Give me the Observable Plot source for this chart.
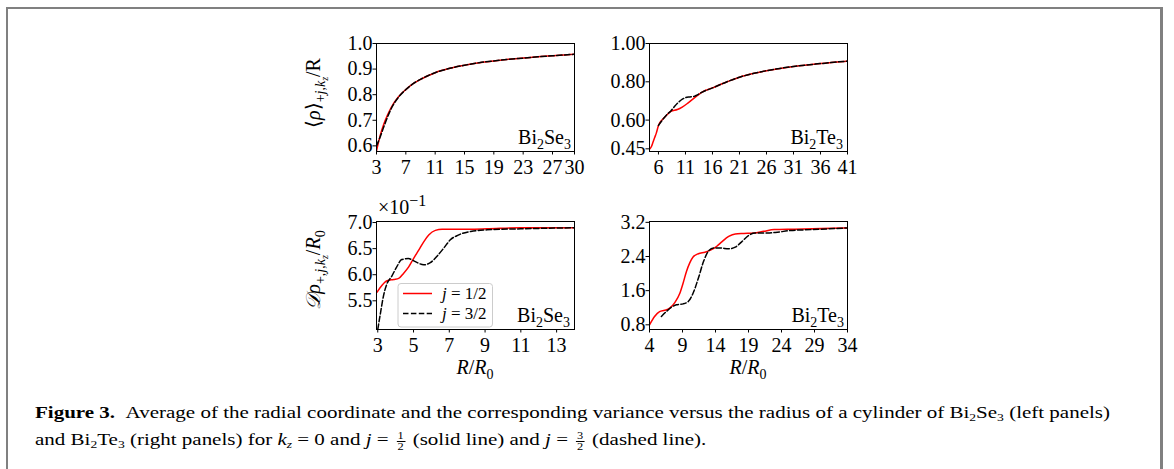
<!DOCTYPE html>
<html><head><meta charset="utf-8">
<script src="https://cdn.jsdelivr.net/npm/d3@7"></script>
<script src="https://cdn.jsdelivr.net/npm/@observablehq/plot@0.6"></script>
<style>
html,body{margin:0;padding:0;background:#fff;}
#page{position:relative;width:1174px;height:469px;overflow:hidden;font-family:"Liberation Serif",serif;color:#000;}
#box{position:absolute;left:6px;top:7px;width:1157px;height:480px;border:2px solid #808080;border-right-width:3px;border-bottom:none;box-sizing:border-box;}
.panel{position:absolute;}
#overlay{position:absolute;left:0;top:0;}
.cap{position:absolute;left:35px;white-space:nowrap;font-size:17px;line-height:17px;transform-origin:0 50%;}
.frac{display:inline-block;vertical-align:-5px;text-align:center;font-size:10px;line-height:10px;margin:0 2px;}
.frac span{display:block;}
.frac .n{border-bottom:1px solid #000;padding:0 1px;}
sub{font-size:11px;vertical-align:-3px;line-height:0;}
</style></head>
<body><div id="page"><div id="box"></div>
<div class="cap" id="cap1" style="top:404px"><b>Figure 3.</b>&nbsp;&nbsp;Average of the radial coordinate and the corresponding variance versus the radius of a cylinder of Bi<sub>2</sub>Se<sub>3</sub> (left panels)</div>
<div class="cap" id="cap2" style="top:431px">and Bi<sub>2</sub>Te<sub>3</sub> (right panels) for <i>k<sub>z</sub></i> = 0 and <i>j</i> = <span class="frac"><span class="n">1</span><span>2</span></span> (solid line) and <i>j</i> = <span class="frac"><span class="n">3</span><span>2</span></span> (dashed line).</div>
</div>
<script>
// ---- data ----
// Bi2Se3, <rho>/R
const seAvgR = [3, 3.5, 4, 4.5, 5, 6, 7, 8, 9, 10, 11, 13, 15, 17, 19, 21, 23, 25, 27, 30];
const seAvgHalf = [0.58, 0.64, 0.685, 0.72, 0.75, 0.792, 0.82, 0.843, 0.86, 0.874, 0.886, 0.903, 0.915, 0.925, 0.932, 0.938, 0.943, 0.948, 0.952, 0.958];
const seAvgThree = [0.60, 0.635, 0.675, 0.712, 0.745, 0.79, 0.82, 0.843, 0.86, 0.874, 0.886, 0.903, 0.915, 0.925, 0.932, 0.938, 0.943, 0.948, 0.952, 0.958];
// Bi2Te3, <rho>/R
const teAvgRHalf = [4.34, 4.7, 5.0, 5.3, 5.6, 6, 6.8, 7.5, 8.3, 9.5, 10.4, 11.5, 13, 14, 16, 18.5, 21, 23.5, 26, 28.5, 31, 33.5, 36, 38.5, 41];
const teAvgHalf = [0.448, 0.462, 0.485, 0.509, 0.532, 0.572, 0.605, 0.625, 0.645, 0.655, 0.668, 0.69, 0.724, 0.745, 0.768, 0.798, 0.824, 0.843, 0.858, 0.87, 0.88, 0.888, 0.895, 0.902, 0.908];
const teAvgRThree = [6, 6.8, 7.5, 8.3, 9, 9.6, 10.2, 11, 11.8, 12.6, 13.2, 14, 16, 18.5, 21, 23.5, 26, 28.5, 31, 33.5, 36, 38.5, 41];
const teAvgThree = [0.572, 0.603, 0.627, 0.648, 0.672, 0.69, 0.705, 0.717, 0.721, 0.724, 0.732, 0.745, 0.768, 0.798, 0.824, 0.843, 0.858, 0.87, 0.88, 0.888, 0.895, 0.902, 0.908];
// Bi2Se3, D rho / R0  (x 10^-1)
const seVarRHalf = [2.95, 3.24, 3.52, 3.9, 4.17, 4.45, 4.73, 5.0, 5.29, 5.57, 5.85, 6.22, 6.6, 7.43, 9.1, 11, 14];
const seVarHalf = [5.66, 5.80, 5.885, 5.91, 5.93, 6.03, 6.15, 6.31, 6.47, 6.63, 6.76, 6.85, 6.87, 6.87, 6.88, 6.90, 6.90];
const seVarRThree = [3, 3.15, 3.33, 3.52, 3.78, 4.06, 4.34, 4.71, 5.1, 5.57, 5.94, 6.3, 6.69, 7.06, 7.5, 8.2, 9.1, 11, 14];
const seVarThree = [4.95, 5.26, 5.61, 5.83, 5.97, 6.15, 6.29, 6.31, 6.25, 6.19, 6.23, 6.35, 6.51, 6.67, 6.76, 6.83, 6.86, 6.88, 6.90];
// Bi2Te3, D rho / R0
const teVarRHalf = [4, 4.77, 5.53, 6.3, 7.06, 7.83, 8.6, 9.1, 9.6, 10.1, 10.6, 11.4, 12.4, 13.4, 14.2, 15, 16, 17, 18.3, 19.8, 21.3, 22.9, 26, 30, 34];
const teVarHalf = [0.80, 0.995, 1.11, 1.14, 1.19, 1.32, 1.54, 1.78, 2.05, 2.25, 2.39, 2.465, 2.50, 2.56, 2.64, 2.75, 2.87, 2.93, 2.94, 2.95, 2.99, 3.03, 3.04, 3.055, 3.07];
const teVarRThree = [5.8, 6.55, 7.3, 8.1, 9.1, 9.9, 10.6, 11.4, 12.2, 12.9, 13.7, 14.7, 16, 17, 18, 19, 20, 21.9, 23.4, 25.4, 28.5, 34];
const teVarThree = [0.995, 1.11, 1.21, 1.27, 1.29, 1.35, 1.54, 1.89, 2.29, 2.52, 2.60, 2.60, 2.58, 2.62, 2.75, 2.89, 2.95, 2.95, 2.97, 3.01, 3.03, 3.07];
// ticks
const tlXTicks = [3, 7, 11, 15, 19, 23, 27, 30];
const tlYTicks = [0.6, 0.7, 0.8, 0.9, 1.0];
const trXTicks = [6, 11, 16, 21, 26, 31, 36, 41];
const trYTicks = [0.45, 0.60, 0.80, 1.00];
const blXTicks = [3, 5, 7, 9, 11, 13];
const blYTicks = [5.5, 6.0, 6.5, 7.0];
const brXTicks = [4, 9, 14, 19, 24, 29, 34];
const brYTicks = [0.8, 1.6, 2.4, 3.2];

const zip = (xs, ys) => xs.map((x, i) => ({r: x, v: ys[i]}));
const page = document.getElementById("page");
const FW = 198, FH = 108, ML = 80, MT = 25, MR = 30, MB = 50;

function panel(left, top, cfg) {
  const p = Plot.plot({
    width: FW + ML + MR, height: FH + MT + MB,
    marginLeft: ML, marginTop: MT, marginRight: MR, marginBottom: MB,
    style: {fontFamily: '"Liberation Serif", serif', background: "transparent", color: "#000", overflow: "visible"},
    x: {domain: cfg.xd},
    y: {domain: cfg.yd},
    marks: [
      Plot.line(cfg.half, {x: "r", y: "v", stroke: "#ff0000", strokeWidth: 1.5, curve: "monotone-x", clip: true}),
      Plot.line(cfg.three, {x: "r", y: "v", stroke: "#000", strokeWidth: 1.5, strokeDasharray: "5.5,2.4", curve: "monotone-x", clip: true}),
      Plot.frame({stroke: "#000", strokeWidth: 1}),
      Plot.axisX({ticks: cfg.xt, tickSize: 3.5, tickPadding: 4.3, fontSize: 20, label: null, tickFormat: d => String(d)}),
      Plot.axisY({ticks: cfg.yt, tickSize: 3.5, tickPadding: 0.5, fontSize: 20, label: null, tickFormat: d3.format(cfg.yf)})
    ]
  });
  p.classList.add("panel");
  p.style.left = (left - ML) + "px";
  p.style.top = (top - MT) + "px";
  page.appendChild(p);
}

panel(376, 43, {xd: [3, 30], yd: [0.578, 1.0], xt: tlXTicks, yt: tlYTicks, yf: ".1f",
  half: zip(seAvgR, seAvgHalf), three: zip(seAvgR, seAvgThree)});
panel(649, 43, {xd: [4.34, 41], yd: [0.436, 1.0], xt: trXTicks, yt: trYTicks, yf: ".2f",
  half: zip(teAvgRHalf, teAvgHalf), three: zip(teAvgRThree, teAvgThree)});
panel(376, 221, {xd: [2.93, 14], yd: [4.95, 7.02], xt: blXTicks, yt: blYTicks, yf: ".1f",
  half: zip(seVarRHalf, seVarHalf), three: zip(seVarRThree, seVarThree)});
panel(649, 221, {xd: [4, 34], yd: [0.69, 3.22], xt: brXTicks, yt: brYTicks, yf: ".1f",
  half: zip(teVarRHalf, teVarHalf), three: zip(teVarRThree, teVarThree)});

// ---- overlay text ----
const ov = d3.select(page).append("svg").attr("id", "overlay").attr("width", 1174).attr("height", 469)
  .style("font-family", '"Liberation Serif", serif').style("pointer-events", "none");

function compound(x, y, a, b) {
  const t = ov.append("text").attr("x", x).attr("y", y).attr("text-anchor", "end").attr("font-size", 20);
  t.append("tspan").text("Bi");
  t.append("tspan").attr("dy", 5).attr("font-size", 14).text("2");
  t.append("tspan").attr("dy", -5).text(a);
  t.append("tspan").attr("dy", 5).attr("font-size", 14).text(b);
}
compound(571, 144, "Se", "3");
compound(843, 144, "Te", "3");
compound(570, 322, "Se", "3");
compound(844, 322, "Te", "3");

// y label top
{
  const t = ov.append("text").attr("transform", "translate(320,93) rotate(-90)").attr("text-anchor", "middle").attr("font-size", 20);
  t.append("tspan").text("⟨");
  t.append("tspan").attr("font-style", "italic").text("ρ");
  t.append("tspan").text("⟩");
  t.append("tspan").attr("dy", 5).attr("font-size", 14).text("+");
  t.append("tspan").attr("font-size", 14).attr("font-style", "italic").text("j");
  t.append("tspan").attr("font-size", 14).text(",");
  t.append("tspan").attr("font-size", 14).attr("font-style", "italic").text("k");
  t.append("tspan").attr("dy", 3).attr("font-size", 10).attr("font-style", "italic").text("z");
  t.append("tspan").attr("dy", -8).text("/R");
}
// y label bottom
{
  const t = ov.append("text").attr("transform", "translate(320,270) rotate(-90)").attr("text-anchor", "middle").attr("font-size", 20);
  t.append("tspan").attr("font-style", "italic").text("𝒟ρ");
  t.append("tspan").attr("dy", 5).attr("font-size", 14).text("+,");
  t.append("tspan").attr("font-size", 14).attr("font-style", "italic").text("j");
  t.append("tspan").attr("font-size", 14).text(",");
  t.append("tspan").attr("font-size", 14).attr("font-style", "italic").text("k");
  t.append("tspan").attr("dy", 3).attr("font-size", 10).attr("font-style", "italic").text("z");
  t.append("tspan").attr("dy", -8).text("/");
  t.append("tspan").attr("font-style", "italic").text("R");
  t.append("tspan").attr("dy", 5).attr("font-size", 14).text("0");
}
// x labels
for (const cx of [475, 748]) {
  const t = ov.append("text").attr("x", cx).attr("y", 374).attr("text-anchor", "middle").attr("font-size", 20);
  t.append("tspan").attr("font-style", "italic").text("R");
  t.append("tspan").text("/");
  t.append("tspan").attr("font-style", "italic").text("R");
  t.append("tspan").attr("dy", 5).attr("font-size", 14).text("0");
}
// multiplier
{
  const t = ov.append("text").attr("x", 378).attr("y", 214).attr("font-size", 20);
  t.append("tspan").text("×10");
  t.append("tspan").attr("dy", -8).attr("font-size", 16).text("−1");
}
// legend
{
  const g = ov.append("g");
  g.append("rect").attr("x", 398).attr("y", 283.5).attr("width", 94.5).attr("height", 43.5).attr("rx", 3)
    .attr("fill", "#fff").attr("fill-opacity", 0.8).attr("stroke", "#cccccc").attr("stroke-width", 1);
  g.append("line").attr("x1", 403).attr("x2", 432).attr("y1", 293.5).attr("y2", 293.5).attr("stroke", "#ff0000").attr("stroke-width", 1.5);
  g.append("line").attr("x1", 403).attr("x2", 432).attr("y1", 313.5).attr("y2", 313.5).attr("stroke", "#000").attr("stroke-width", 1.5).attr("stroke-dasharray", "5.5,2.4");
  const labels = [["1/2", 299], ["3/2", 319]];
  for (const [fr, y] of labels) {
    const t = g.append("text").attr("x", 442).attr("y", y).attr("font-size", 17);
    t.append("tspan").attr("font-style", "italic").text("j");
    t.append("tspan").text(" = " + fr);
  }
}
// caption width to match the reference's line length
{
  const c1 = document.getElementById("cap1"), c2 = document.getElementById("cap2");
  const s = 1075 / c1.getBoundingClientRect().width;
  c1.style.transform = c2.style.transform = `scaleX(${s})`;
}
</script>
</body></html>
